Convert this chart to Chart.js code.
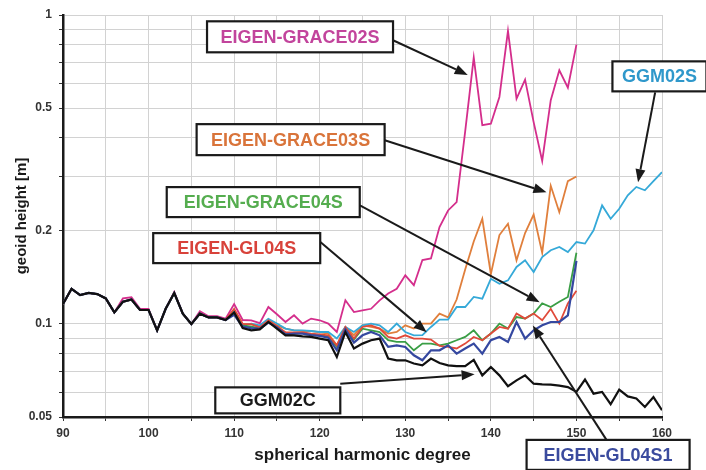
<!DOCTYPE html>
<html>
<head>
<meta charset="utf-8">
<script src="https://cdn.jsdelivr.net/npm/chart.js@4.4.0/dist/chart.umd.min.js"></script>
<style>
  html, body { margin: 0; padding: 0; background: #fff; }
  #wrap { width: 706px; height: 470px; }
</style>
</head>
<body>
<div id="wrap"><canvas id="myChart" width="706" height="470"></canvas></div>
<script>
// spherical harmonic degree
const degrees = [
  90, 91, 92, 93, 94, 95, 96, 97, 98, 99,
  100, 101, 102, 103, 104, 105, 106, 107, 108, 109,
  110, 111, 112, 113, 114, 115, 116, 117, 118, 119,
  120, 121, 122, 123, 124, 125, 126, 127, 128, 129,
  130, 131, 132, 133, 134, 135, 136, 137, 138, 139,
  140, 141, 142, 143, 144, 145, 146, 147, 148, 149,
  150, 151, 152, 153, 154, 155, 156, 157, 158, 159, 160
];

// geoid height [m] per degree
const ggm02c = [
  0.116, 0.130, 0.124, 0.126, 0.125, 0.121, 0.109, 0.118, 0.120, 0.111,
  0.111, 0.0954, 0.112, 0.126, 0.108, 0.100, 0.108, 0.105, 0.105, 0.103,
  0.109, 0.097, 0.0954, 0.0961, 0.1015, 0.0966, 0.0919, 0.0919, 0.0912, 0.0908,
  0.0897, 0.0886, 0.0782, 0.0942, 0.0833, 0.0864, 0.0886, 0.0897, 0.0773, 0.0763,
  0.0763, 0.0745, 0.0735, 0.0773, 0.0748, 0.0735, 0.073, 0.073, 0.0765, 0.0682,
  0.0726, 0.0682, 0.0629, 0.0657, 0.0682, 0.0641, 0.0638, 0.0636, 0.0632, 0.0625,
  0.0603, 0.0661, 0.0595, 0.0603, 0.055, 0.0613, 0.0583, 0.0574, 0.0539, 0.058, 0.0526
];
const ggm02s = [
  0.116, 0.130, 0.124, 0.126, 0.125, 0.121, 0.109, 0.118, 0.120, 0.111,
  0.111, 0.0954, 0.112, 0.126, 0.108, 0.100, 0.108, 0.105, 0.105, 0.103,
  0.110, 0.099, 0.1003, 0.099, 0.104, 0.1003, 0.0966, 0.0954, 0.0954, 0.0949,
  0.0942, 0.0942, 0.0897, 0.0978, 0.0942, 0.099, 0.1003, 0.099, 0.0942, 0.1003,
  0.0942, 0.0919, 0.092, 0.0978, 0.1033, 0.1033, 0.1135, 0.1135, 0.1223, 0.1208,
  0.140, 0.135, 0.1384, 0.153, 0.1607, 0.1473, 0.1647, 0.1732, 0.1775, 0.171,
  0.1842, 0.182, 0.201, 0.242, 0.219, 0.236, 0.261, 0.2776, 0.2708, 0.29, 0.31
];
const grace02s = [
  0.116, 0.130, 0.124, 0.126, 0.125, 0.121, 0.109, 0.121, 0.122, 0.112,
  0.112, 0.0954, 0.112, 0.127, 0.108, 0.100, 0.110, 0.106, 0.106, 0.104,
  0.116, 0.103, 0.1028, 0.1007, 0.1135, 0.1075, 0.1015, 0.1067, 0.1003, 0.1041,
  0.1028, 0.1003, 0.0942, 0.1193, 0.1093, 0.1107, 0.112, 0.1193, 0.1255, 0.130,
  0.1437, 0.1335, 0.161, 0.163, 0.206, 0.233, 0.248, 0.42, 0.728, 0.44,
  0.445, 0.543, 0.888, 0.536, 0.618, 0.45, 0.337, 0.53, 0.662, 0.582,
  0.802
];
const grace03s = [
  0.116, 0.130, 0.124, 0.126, 0.125, 0.121, 0.109, 0.118, 0.120, 0.111,
  0.111, 0.0954, 0.112, 0.126, 0.108, 0.100, 0.108, 0.105, 0.105, 0.103,
  0.111, 0.100, 0.0998, 0.098, 0.103, 0.099, 0.0966, 0.0954, 0.0949, 0.0949,
  0.094, 0.0931, 0.0853, 0.0978, 0.092, 0.099, 0.0978, 0.0966, 0.0931, 0.0942,
  0.099, 0.0966, 0.1003, 0.1003, 0.108, 0.105, 0.12, 0.15, 0.185, 0.219,
  0.145, 0.194, 0.211, 0.1607, 0.197, 0.226, 0.17, 0.28, 0.23, 0.29,
  0.30
];
const grace04s = [
  0.116, 0.130, 0.124, 0.126, 0.125, 0.121, 0.109, 0.118, 0.120, 0.111,
  0.111, 0.0954, 0.112, 0.126, 0.108, 0.100, 0.108, 0.105, 0.105, 0.103,
  0.109, 0.099, 0.098, 0.097, 0.1015, 0.098, 0.0935, 0.0935, 0.0935, 0.0925,
  0.092, 0.091, 0.0843, 0.097, 0.089, 0.0966, 0.0954, 0.0942, 0.0886, 0.0875,
  0.0875, 0.0822, 0.0864, 0.0864, 0.0853, 0.0864, 0.0886, 0.0908, 0.0954, 0.0886,
  0.0931, 0.1003, 0.0966, 0.1053, 0.1041, 0.1081, 0.1166, 0.1135, 0.118, 0.1223,
  0.17
];
const gl04s = [
  0.116, 0.130, 0.124, 0.126, 0.125, 0.121, 0.109, 0.118, 0.120, 0.111,
  0.111, 0.0954, 0.112, 0.126, 0.108, 0.100, 0.108, 0.105, 0.105, 0.103,
  0.112, 0.100, 0.0998, 0.0975, 0.1028, 0.0983, 0.094, 0.094, 0.094, 0.093,
  0.0925, 0.0919, 0.0853, 0.0978, 0.0897, 0.0978, 0.099, 0.0966, 0.0908, 0.0897,
  0.0919, 0.0897, 0.0897, 0.089, 0.085, 0.0843, 0.0833, 0.0864, 0.0908, 0.0886,
  0.0931, 0.0978, 0.0966, 0.1081, 0.1041, 0.1081, 0.1028, 0.112, 0.1003, 0.1166,
  0.128
];
const gl04s1 = [
  0.116, 0.130, 0.124, 0.126, 0.125, 0.121, 0.109, 0.118, 0.120, 0.111,
  0.111, 0.0954, 0.112, 0.126, 0.108, 0.100, 0.108, 0.105, 0.105, 0.103,
  0.107, 0.098, 0.097, 0.0965, 0.101, 0.0975, 0.0925, 0.093, 0.093, 0.092,
  0.0915, 0.0903, 0.0822, 0.096, 0.087, 0.0919, 0.0942, 0.0919, 0.0843, 0.0853,
  0.0843, 0.0792, 0.0763, 0.0822, 0.0822, 0.0853, 0.0802, 0.0833, 0.0864, 0.0802,
  0.0886, 0.0908, 0.0875, 0.1015, 0.0897, 0.0954, 0.099, 0.1015, 0.1015, 0.1067,
  0.16
];

// y grid lines and which of them carry a label
const yTicks = [0.05, 0.06, 0.07, 0.08, 0.09, 0.1, 0.2, 0.3, 0.4, 0.5, 0.6, 0.7, 0.8, 0.9, 1];
const yLabels = [0.05, 0.1, 0.2, 0.5, 1];

// label boxes: box centre, arrow tail and arrow tip all in data units
const callouts = [
  { text: 'EIGEN-GRACE02S', color: '#c2449c', at: [117.7, 0.85], w: 186, h: 31, tail: [128.5, 0.83], tip: [137.3, 0.64] },
  { text: 'EIGEN-GRACE03S', color: '#d9743a', at: [116.6, 0.395], w: 188, h: 31, tail: [127.6, 0.393], tip: [146.5, 0.267] },
  { text: 'EIGEN-GRACE04S', color: '#55ad4f', at: [113.4, 0.248], w: 193, h: 30, tail: [124.7, 0.242], tip: [145.7, 0.1175] },
  { text: 'EIGEN-GL04S', color: '#d8423a', at: [110.3, 0.176], w: 167, h: 30, tail: [119.8, 0.187], tip: [132.5, 0.094] },
  { text: 'GGM02C', color: '#1a1a1a', at: [115.1, 0.0566], w: 125, h: 26, tail: [122.4, 0.0641], tip: [138.1, 0.0687] },
  { text: 'GGM02S', color: '#2f98cb', at: [159.7, 0.633], w: 94, h: 30, tail: [159.2, 0.562], tip: [157.2, 0.2875] },
  { text: 'EIGEN-GL04S1', color: '#3b4b9e', at: [153.7, 0.0377], w: 163, h: 30, tail: [153.55, 0.042], tip: [144.9, 0.0988] }
];

const toPoints = (values) => values.map((v, i) => ({ x: degrees[i], y: v }));

const calloutPlugin = {
  id: 'callouts',
  afterDraw(chart) {
    const { ctx, scales: { x, y } } = chart;
    ctx.save();
    callouts.forEach(c => {
      const tx = x.getPixelForValue(c.tail[0]), ty = y.getPixelForValue(c.tail[1]);
      const px = x.getPixelForValue(c.tip[0]), py = y.getPixelForValue(c.tip[1]);
      const ang = Math.atan2(py - ty, px - tx);
      const head = 13, half = 5;
      const bx = px - head * Math.cos(ang), by = py - head * Math.sin(ang);
      ctx.strokeStyle = '#1a1a1a';
      ctx.lineWidth = 2;
      ctx.beginPath();
      ctx.moveTo(tx, ty);
      ctx.lineTo(bx, by);
      ctx.stroke();
      ctx.fillStyle = '#1a1a1a';
      ctx.beginPath();
      ctx.moveTo(px, py);
      ctx.lineTo(bx + half * Math.sin(ang), by - half * Math.cos(ang));
      ctx.lineTo(bx - half * Math.sin(ang), by + half * Math.cos(ang));
      ctx.closePath();
      ctx.fill();

      const cx = x.getPixelForValue(c.at[0]), cy = y.getPixelForValue(c.at[1]);
      ctx.fillStyle = '#fff';
      ctx.fillRect(cx - c.w / 2, cy - c.h / 2, c.w, c.h);
      ctx.lineWidth = 2.2;
      ctx.strokeRect(cx - c.w / 2, cy - c.h / 2, c.w, c.h);
      ctx.fillStyle = c.color;
      ctx.font = 'bold 18px "Liberation Sans", Arial, sans-serif';
      ctx.textAlign = 'center';
      ctx.textBaseline = 'middle';
      ctx.fillText(c.text, cx, cy + 1);
    });
    ctx.restore();
  }
};

const line = (label, values, color, width) => ({
  label: label,
  data: toPoints(values),
  borderColor: color,
  borderWidth: width,
  pointRadius: 0,
  tension: 0,
  fill: false
});

const config = {
  type: 'line',
  data: {
    datasets: [
      line('GGM02C', ggm02c, '#111111', 2.2),
      line('EIGEN-GL04S1', gl04s1, '#3548a0', 2.2),
      line('EIGEN-GL04S', gl04s, '#e04a3a', 1.8),
      line('EIGEN-GRACE04S', grace04s, '#3a9e45', 1.8),
      line('GGM02S', ggm02s, '#35a9d8', 1.8),
      line('EIGEN-GRACE03S', grace03s, '#e07f3c', 1.8),
      line('EIGEN-GRACE02S', grace02s, '#d42e8c', 1.8)
    ]
  },
  options: {
    responsive: false,
    animation: false,
    layout: { padding: { top: 15, right: 44, left: 0, bottom: 0 } },
    plugins: {
      legend: { display: false },
      tooltip: { enabled: false }
    },
    scales: {
      x: {
        type: 'linear',
        min: 90,
        max: 160,
        afterFit: (scale) => { scale.height = 53; },
        border: { color: '#1a1a1a', width: 2.5 },
        grid: { color: '#d2d2d2', lineWidth: 1, tickLength: 4, tickColor: '#333' },
        ticks: {
          stepSize: 5,
          autoSkip: false,
          maxRotation: 0,
          padding: 5,
          color: '#333',
          font: { family: '"Liberation Sans", Arial, sans-serif', size: 12, weight: 'bold' },
          callback: (v) => (v % 10 === 0 ? String(v) : '')
        },
        title: {
          display: true,
          text: 'spherical harmonic degree',
          color: '#1a1a1a',
          padding: { top: 0, bottom: 4 },
          font: { family: '"Liberation Sans", Arial, sans-serif', size: 17, weight: 'bold' }
        }
      },
      y: {
        type: 'logarithmic',
        min: 0.05,
        max: 1,
        afterFit: (scale) => { scale.width = 63; },
        afterBuildTicks: (scale) => { scale.ticks = yTicks.map(v => ({ value: v })); },
        border: { color: '#1a1a1a', width: 2.5 },
        grid: { color: '#d2d2d2', lineWidth: 1, tickLength: 4, tickColor: '#333' },
        ticks: {
          autoSkip: false,
          padding: 7,
          color: '#333',
          font: { family: '"Liberation Sans", Arial, sans-serif', size: 12, weight: 'bold' },
          callback: (v) => (yLabels.includes(v) ? String(v) : '')
        },
        title: {
          display: true,
          text: 'geoid height [m]',
          color: '#1a1a1a',
          padding: { top: 13, bottom: 0 },
          font: { family: '"Liberation Sans", Arial, sans-serif', size: 15, weight: 'bold' }
        }
      }
    }
  },
  plugins: [calloutPlugin]
};

var myChart = new Chart(document.getElementById('myChart'), config);
</script>
</body>
</html>
